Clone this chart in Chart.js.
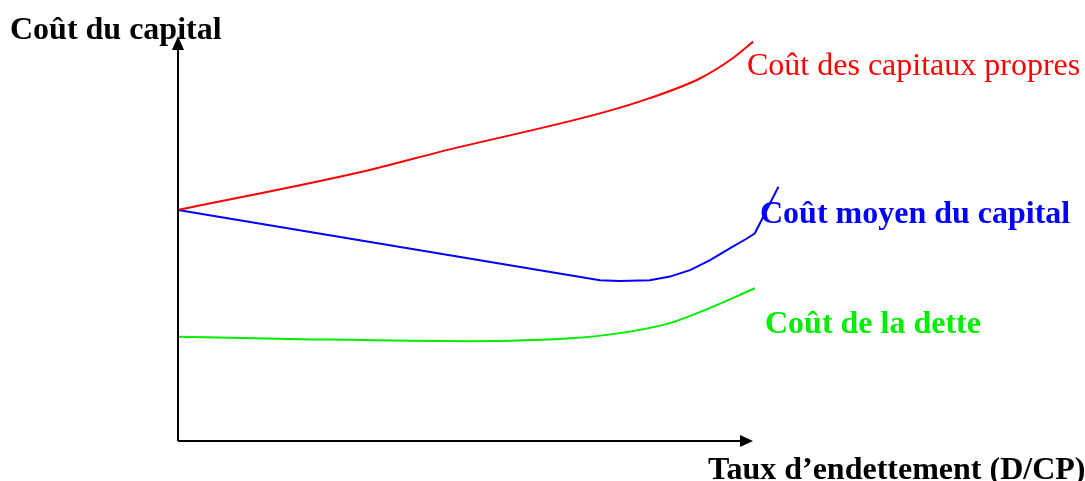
<!DOCTYPE html>
<html>
    <head>
        <meta charset="utf-8">
        <title>Coût du capital</title>
        <script src="https://cdn.jsdelivr.net/npm/chart.js@4.4.1/dist/chart.umd.min.js"></script>
        <style>
            body { margin: 0; background: #fff; }
            #wrap { width: 1085px; height: 481px; position: relative; }
        </style>
    </head>
    <body>
        <div id="wrap"><canvas id="chart" width="1085" height="481"></canvas></div>

        <script>
            // points (x: debt ratio, y: cost, arbitrary units, 0-100 on the drawn axes)
            const equityX = [0, 33.4, 45.6, 73.5, 82.2, 90.9, 96.2, 100.2];
            const equityY = [57.6, 67.6, 72.1, 81.7, 85.5, 90.4, 95.0, 99.6];

            const waccX = [0, 73.5, 77.0, 82.2, 85.7, 89.2, 92.7, 96.2, 99.1, 100.5, 104.6];
            const waccY = [57.6, 40.1, 39.9, 40.1, 41.0, 42.6, 45.1, 48.1, 50.5, 51.8, 63.4];

            const debtX = [0, 21.3, 50.9, 68.3, 77.0, 85.7, 92.7, 100.5];
            const debtY = [26.0, 25.4, 24.9, 25.6, 26.9, 29.4, 33.2, 38.1];

            const yTitle = "Coût du capital";
            const xTitle = "Taux d’endettement (D/CP)";
            const seriesNames = ["Coût des capitaux propres", "Coût moyen du capital", "Coût de la dette"];

            function toPoints(xs, ys){
                let pts = [];
                for(let i=0; i < xs.length; i++){
                    pts.push({x: xs[i], y: ys[i]});
                }
                return pts;
            }

            // axes with arrow heads + the text labels
            const decor = {
                id: 'decor',
                afterDraw(chart){
                    const c = chart.ctx;
                    const xs = chart.scales.x, ys = chart.scales.y;
                    const x0 = xs.getPixelForValue(0), y0 = ys.getPixelForValue(0);
                    const xEnd = xs.getPixelForValue(100), yEnd = ys.getPixelForValue(100);
                    c.save();
                    c.strokeStyle = '#000';
                    c.fillStyle = '#000';
                    c.lineWidth = 2;
                    c.beginPath();
                    c.moveTo(x0, y0);
                    c.lineTo(x0, yEnd + 8);
                    c.moveTo(x0, y0);
                    c.lineTo(xEnd - 8, y0);
                    c.stroke();
                    // arrow heads
                    c.beginPath();
                    c.moveTo(x0, yEnd - 4);
                    c.lineTo(x0 - 6, yEnd + 10);
                    c.lineTo(x0 + 6, yEnd + 10);
                    c.closePath();
                    c.fill();
                    c.beginPath();
                    c.moveTo(xEnd + 1, y0);
                    c.lineTo(xEnd - 12, y0 - 6);
                    c.lineTo(xEnd - 12, y0 + 6);
                    c.closePath();
                    c.fill();

                    c.textBaseline = 'alphabetic';
                    c.textAlign = 'left';
                    c.font = 'bold 32px "Liberation Serif"';
                    c.fillText(yTitle, 10, 39);
                    c.fillText(xTitle, 708, 479);

                    c.font = '32px "Liberation Serif"';
                    c.fillStyle = '#ff0000';
                    c.fillText(seriesNames[0], 747, 75);
                    c.font = 'bold 32px "Liberation Serif"';
                    c.fillStyle = '#0000ff';
                    c.fillText(seriesNames[1], 760, 223);
                    c.fillStyle = '#00ee00';
                    c.fillText(seriesNames[2], 765, 333);
                    c.restore();
                }
            };

            new Chart(document.getElementById('chart'), {
                type: 'line',
                data: {
                    datasets: [{
                        label: seriesNames[0],
                        data: toPoints(equityX, equityY),
                        borderColor: '#ff0000',
                        borderWidth: 2,
                        pointRadius: 0,
                        cubicInterpolationMode: 'monotone',
                        clip: false
                    }, {
                        label: seriesNames[1],
                        data: toPoints(waccX, waccY),
                        borderColor: '#0000ff',
                        borderWidth: 2,
                        pointRadius: 0,
                        tension: 0,
                        clip: false
                    }, {
                        label: seriesNames[2],
                        data: toPoints(debtX, debtY),
                        borderColor: '#00ee00',
                        borderWidth: 2,
                        pointRadius: 0,
                        cubicInterpolationMode: 'monotone',
                        clip: false
                    }]
                },
                options: {
                    responsive: false,
                    animation: false,
                    // x: 0..105 so that 100 lands where the axis arrow ends
                    layout: { padding: { left: 178, right: 304.3, top: 40, bottom: 40 } },
                    plugins: { legend: { display: false }, tooltip: { enabled: false } },
                    scales: {
                        x: { type: 'linear', min: 0, max: 105, display: false },
                        y: { type: 'linear', min: 0, max: 100, display: false }
                    }
                },
                plugins: [decor]
            });
        </script>
    </body>
</html>
